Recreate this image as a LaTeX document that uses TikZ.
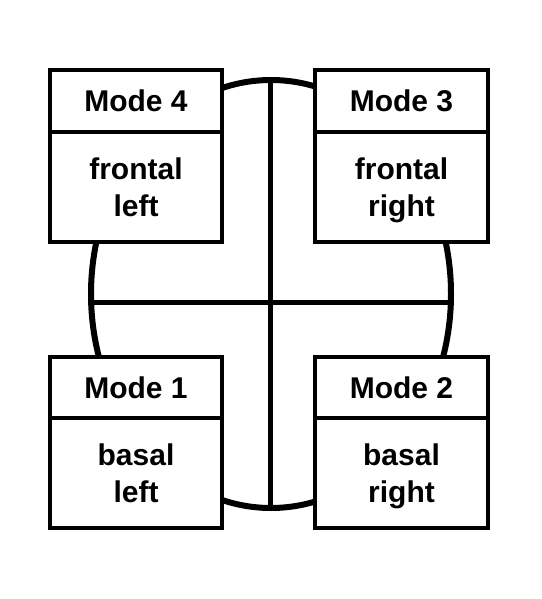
\documentclass[tikz,border=0pt]{standalone}
\usepackage{fontspec}
\setmainfont{Liberation Sans}
\begin{document}
\begin{tikzpicture}[x=1pt,y=-1pt,
  box/.style={draw, line width=4pt, fill=white, minimum width=172.5pt, inner sep=0pt,
    align=center, font=\fontsize{30}{37}\selectfont\bfseries},
  hdr/.style={box, minimum height=62pt},
  body/.style={box, minimum height=109.5pt},
  txt/.style={align=center, inner sep=0pt, font=\fontsize{30}{37}\selectfont\bfseries},
  axis/.style={line width=5pt}]
\useasboundingbox (0,0) rectangle (541,599);
\draw[line width=6pt] (271,294) ellipse [x radius=180, y radius=214];
\coordinate (top) at (270,80);
\coordinate (bot) at (270,508);
\coordinate (lft) at (91,302);
\coordinate (rgt) at (451,302);
\draw[axis] (top) -- (bot);
\draw[axis] (lft) -- (rgt);
% top left
\node[hdr]  (m4) at (136,101) {Mode 4};
\node[body] (b4) at (136,187) {};
\node[txt]  (t4) at (136,190) {frontal\\left\vphantom{g}};
% top right
\node[hdr]  (m3) at (401.5,101) {Mode 3};
\node[body] (b3) at (401.5,187) {};
\node[txt]  (t3) at (401.5,190) {frontal\\right};
% bottom left
\node[hdr]  (m1) at (136,387.5) {Mode 1};
\node[body] (b1) at (136,473) {};
\node[txt]  (t1) at (136,476) {basal\\left\vphantom{g}};
% bottom right
\node[hdr]  (m2) at (401.5,387.5) {Mode 2};
\node[body] (b2) at (401.5,473) {};
\node[txt]  (t2) at (401.5,476) {basal\\right};
\end{tikzpicture}
\end{document}
